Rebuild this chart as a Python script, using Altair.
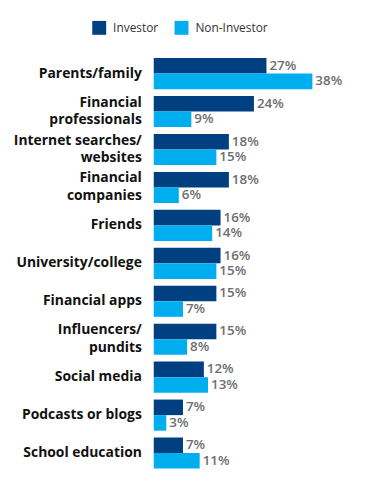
import altair as alt
import pandas as pd

categories = ["Parents/family", "Financial|professionals", "Internet searches/|websites",
              "Financial|companies", "Friends", "University/college", "Financial apps",
              "Influencers/|pundits", "Social media", "Podcasts or blogs", "School education"]
groups = ["Investor", "Non-Investor"]
investor = [27, 24, 18, 18, 16, 16, 15, 15, 12, 7, 7]
non_investor = [38, 9, 15, 6, 14, 15, 7, 8, 13, 3, 11]
colors = ["#003f80", "#00aeef"]

rows = []
for c, a, b in zip(categories, investor, non_investor):
    rows.append({"cat": c, "group": groups[0], "value": a, "label": f"{a}%"})
    rows.append({"cat": c, "group": groups[1], "value": b, "label": f"{b}%"})
df = pd.DataFrame(rows)

lab_rows = []
for c in categories:
    parts = c.split("|")
    n = len(parts)
    for i, p in enumerate(parts):
        kind = "single" if n == 1 else ("first" if i == 0 else "second")
        lab_rows.append({"cat": c, "text": p, "kind": kind})
labdf = pd.DataFrame(lab_rows)

font = "Open Sans"
y = alt.Y("cat:N", sort=categories, title=None,
          scale=alt.Scale(paddingInner=0.18, paddingOuter=0.09), axis=None)
yoff = alt.YOffset("group:N", sort=groups)
x = alt.X("value:Q", title=None, scale=alt.Scale(domain=[0, 47.5]), axis=None)

base = alt.Chart(df)
bars = base.mark_bar().encode(
    y=y, yOffset=yoff, x=x,
    color=alt.Color("group:N", sort=groups, scale=alt.Scale(domain=groups, range=colors),
                    legend=alt.Legend(title=None, orient="none", direction="horizontal",
                                      legendX=-62, legendY=-34, symbolType="square",
                                      symbolSize=196, symbolStrokeWidth=0, labelFont=font,
                                      labelFontSize=12, labelColor="#333333",
                                      labelOffset=7, columnPadding=16))
)
text = base.mark_text(align="left", baseline="middle", dx=3, font=font, fontWeight=600,
                      fontSize=13.5, color="#6d6e71").encode(
    y=y, yOffset=yoff, x=x, text="label:N")

lab_base = alt.Chart(labdf)
def lab_layer(kind, dy):
    return lab_base.transform_filter(alt.datum.kind == kind).mark_text(
        align="right", baseline="middle", dy=dy, font=font, fontWeight="bold",
        fontSize=14, color="#111111").encode(
        y=y, x=alt.value(-12), text="text:N")

labels = lab_layer("single", 0) + lab_layer("first", -9) + lab_layer("second", 9)

chart = (bars + text + labels).properties(
    width=200, height=421, padding={"top": 11, "left": 5, "right": 5, "bottom": 5}
).configure_view(stroke=None)
chart.save("out.html", embed_options={"renderer": "svg", "actions": False})
